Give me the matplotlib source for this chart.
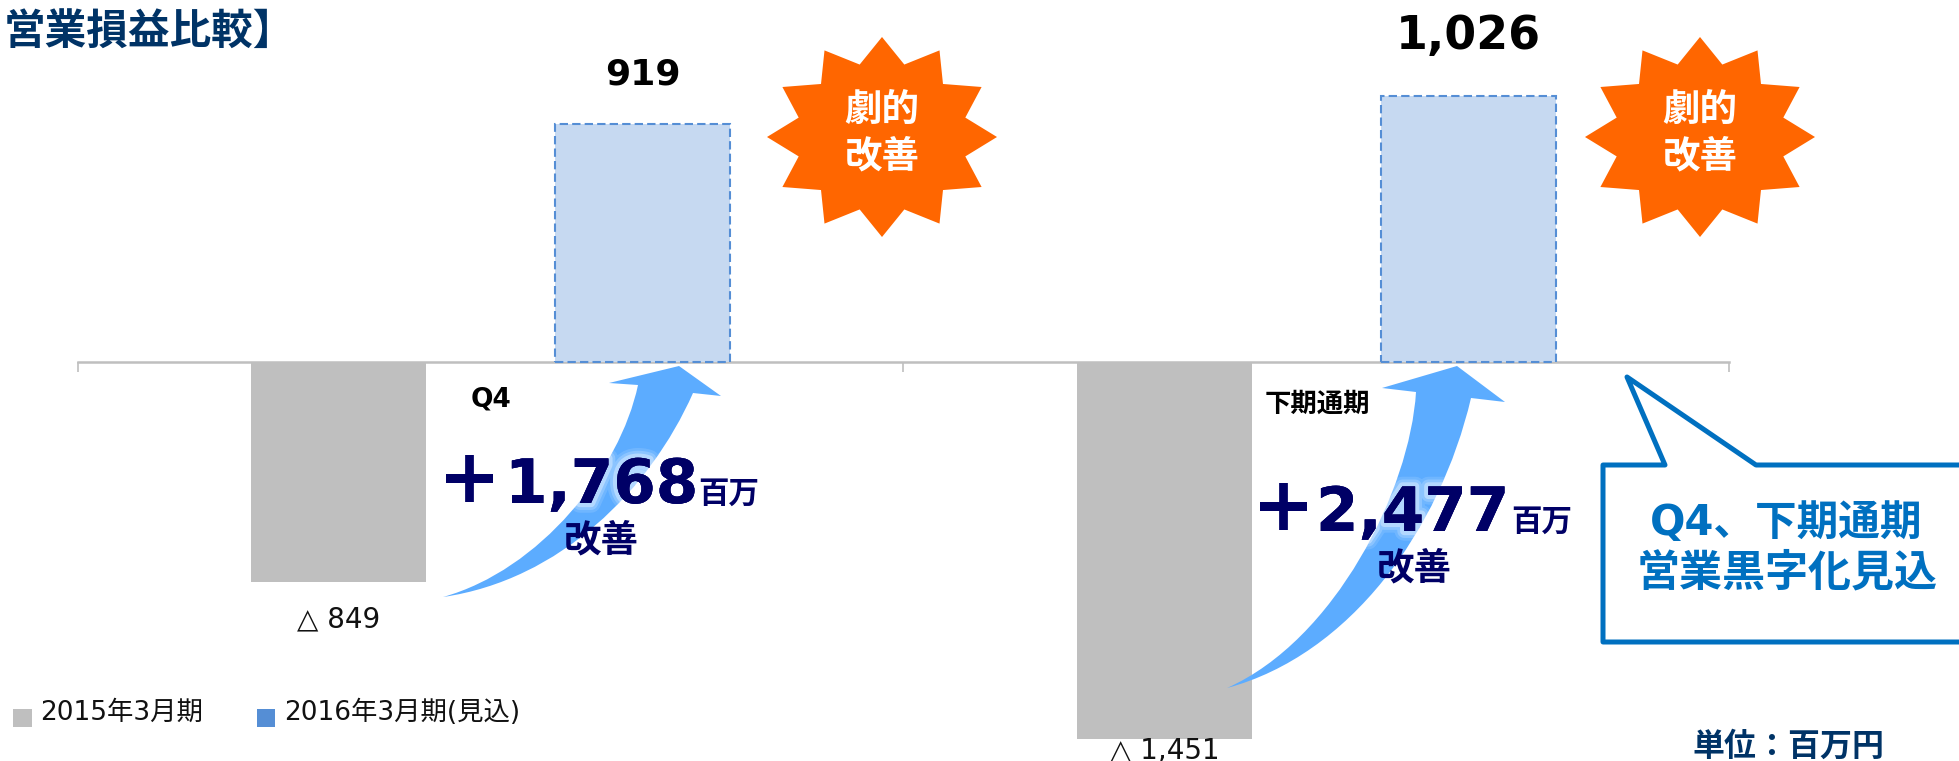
import numpy as np
import matplotlib
matplotlib.use('Agg')
import matplotlib.pyplot as plt
import matplotlib.patheffects as pe
from matplotlib.patches import PathPatch, Polygon, Rectangle
from matplotlib.path import Path

plt.rcParams['font.family'] = ['DejaVu Sans', 'Noto Sans CJK JP']

# operating result, million yen
periods = ['Q4', '下期通期']
fy2015 = [-849, -1451]
fy2016 = [919, 1026]
improvement = ['1,768', '2,477']
legend_labels = ['2015年3月期', '2016年3月期(見込)']

GRAY = '#BFBFBF'
BLUE = '#558ED5'
LIGHT_BLUE = '#C6D9F1'
ARROW = '#5CACFF'
NAVY = '#000066'
TITLE = '#003366'
ORANGE = '#FF6600'
CALLOUT = '#0070C0'

W, H = 1959, 761
ZERO_Y = 362          # pixel row of the zero line
PX_PER_UNIT = 0.2595

fig = plt.figure(figsize=(W / 100, H / 100), dpi=100)

# bar chart
ax = fig.add_axes([78 / W, 0, 1651 / W, 1])
ax.set_xlim(-0.5, 1.5)
ax.set_ylim(-(H - ZERO_Y) / PX_PER_UNIT, ZERO_Y / PX_PER_UNIT)
ax.patch.set_alpha(0)

x = np.arange(len(periods))
offset = 0.184
width = 0.212
ax.bar(x - offset, fy2015, width, color=GRAY, zorder=3)
ax.bar(x + offset, fy2016, width, color=LIGHT_BLUE, edgecolor=BLUE,
       linestyle=(0, (4, 2)), linewidth=1.5, zorder=3)

for side in ['top', 'left', 'right']:
    ax.spines[side].set_visible(False)
ax.spines['bottom'].set_position(('data', 0))
ax.spines['bottom'].set_color(GRAY)
ax.spines['bottom'].set_linewidth(1.8)
ax.set_yticks([])
ax.set_xticks([-0.5, 0.5, 1.5])
ax.set_xticklabels([])
ax.tick_params(axis='x', direction='out', length=7, width=1.2, color=GRAY)

# value labels
for xi, v, dy in zip(x - offset, fy2015, [-37, -12]):
    ax.annotate(f'△ {abs(v):,}', xy=(xi, v), xytext=(0, dy), textcoords='offset pixels',
                ha='center', va='center', fontsize=20, color='#111111', zorder=5)
for xi, v, size, dy in zip(x + offset, fy2016, [26, 33], [49, 59]):
    ax.annotate(f'{v:,}', xy=(xi, v), xytext=(0, dy), textcoords='offset pixels',
                ha='center', va='center', fontsize=size, fontweight='bold',
                color='black', zorder=5)

# everything else is placed in pixel coordinates
ov = fig.add_axes([0, 0, 1, 1])
ov.set_xlim(0, W)
ov.set_ylim(H, 0)
ov.axis('off')
ov.patch.set_alpha(0)


def curved_arrow(tail, left, head_l, tip, head_r, right, c_left, c_right):
    verts = [tail, c_left[0], c_left[1], left, head_l, tip, head_r, right,
             c_right[1], c_right[0], tail]
    codes = [Path.MOVETO, Path.CURVE4, Path.CURVE4, Path.CURVE4, Path.LINETO,
             Path.LINETO, Path.LINETO, Path.LINETO, Path.CURVE4, Path.CURVE4, Path.CURVE4]
    ov.add_patch(PathPatch(Path(verts, codes), facecolor=ARROW, edgecolor='none', zorder=2))


curved_arrow((443, 597), (638, 385), (609, 383), (679, 366), (721, 396), (693, 393),
             [(540, 570), (620, 470)], [(560, 580), (650, 490)])
curved_arrow((1227, 688), (1416, 392), (1382, 388), (1457, 366), (1505, 402), (1471, 398),
             [(1335, 640), (1410, 490)], [(1350, 655), (1440, 530)])


def star(cx, cy):
    angles = np.deg2rad(np.arange(0, 360, 15))
    radius = np.where(np.arange(24) % 2 == 0, 1.0, 0.75)
    pts = np.column_stack([cx + 115 * radius * np.sin(angles), cy - 100 * radius * np.cos(angles)])
    ov.add_patch(Polygon(pts, closed=True, facecolor=ORANGE, edgecolor='none', zorder=2))
    ov.text(cx, cy - 26, '劇的', ha='center', va='center', fontsize=27, fontweight='bold', color='white', zorder=4)
    ov.text(cx, cy + 20, '改善', ha='center', va='center', fontsize=27, fontweight='bold', color='white', zorder=4)


star(882, 137)
star(1700, 137)

# soft light halo behind the big numbers
glow = [pe.withStroke(linewidth=14, foreground='white', alpha=0.12),
        pe.withStroke(linewidth=10, foreground='white', alpha=0.2),
        pe.withStroke(linewidth=6, foreground='white', alpha=0.35),
        pe.Normal()]

# improvement captions
ov.text(491, 400, periods[0], ha='center', va='center', fontsize=19, fontweight='bold', color='black', zorder=4)
ov.text(1317, 405, periods[1], ha='center', va='center', fontsize=19, fontweight='bold', color='black', zorder=4)

for plus_x, num_x, unit_x, base_y, value, kaizen_x in [(470, 505, 698, 503, improvement[0], 601),
                                                      (1283, 1316, 1511, 531, improvement[1], 1414)]:
    ov.text(plus_x, base_y - 22, '+', ha='center', va='center', fontsize=54, fontweight='bold',
            color=NAVY, zorder=4)
    ov.text(num_x, base_y, value, ha='left', va='baseline', fontsize=44, fontweight='bold',
            color=NAVY, zorder=4, path_effects=glow)
    ov.text(unit_x, base_y, '百万', ha='left', va='baseline', fontsize=22, fontweight='bold',
            color=NAVY, zorder=4)
    ov.text(kaizen_x, base_y + 38, '改善', ha='center', va='center', fontsize=27, fontweight='bold',
            color=NAVY, zorder=4)

# title, unit
ov.text(4, 33, '営業損益比較】', ha='left', va='center', fontsize=30, fontweight='bold', color=TITLE)
ov.text(1788, 747, '単位：百万円', ha='center', va='center', fontsize=23, fontweight='bold', color=TITLE)

# callout, right side runs off the page
ov.add_patch(Polygon([(1603, 465), (1665, 465), (1627, 377), (1756, 465), (2000, 465),
                      (2000, 642), (1603, 642)], closed=True, facecolor='white',
                     edgecolor=CALLOUT, linewidth=3.6, joinstyle='round', zorder=2))
ov.text(1786, 523, 'Q4、下期通期', ha='center', va='center', fontsize=30, fontweight='bold', color=CALLOUT, zorder=4)
ov.text(1787, 573, '営業黒字化見込', ha='center', va='center', fontsize=31, fontweight='bold', color=CALLOUT, zorder=4)

# legend
for left, size, color, tx, label in [(13, 19, GRAY, 40, legend_labels[0]), (257, 18, BLUE, 284, legend_labels[1])]:
    ov.add_patch(Rectangle((left, 709), size, 18, facecolor=color, edgecolor='none'))
    ov.text(tx, 713, label, ha='left', va='center', fontsize=19, color='#111111')

fig.savefig('out.png', dpi=100)
